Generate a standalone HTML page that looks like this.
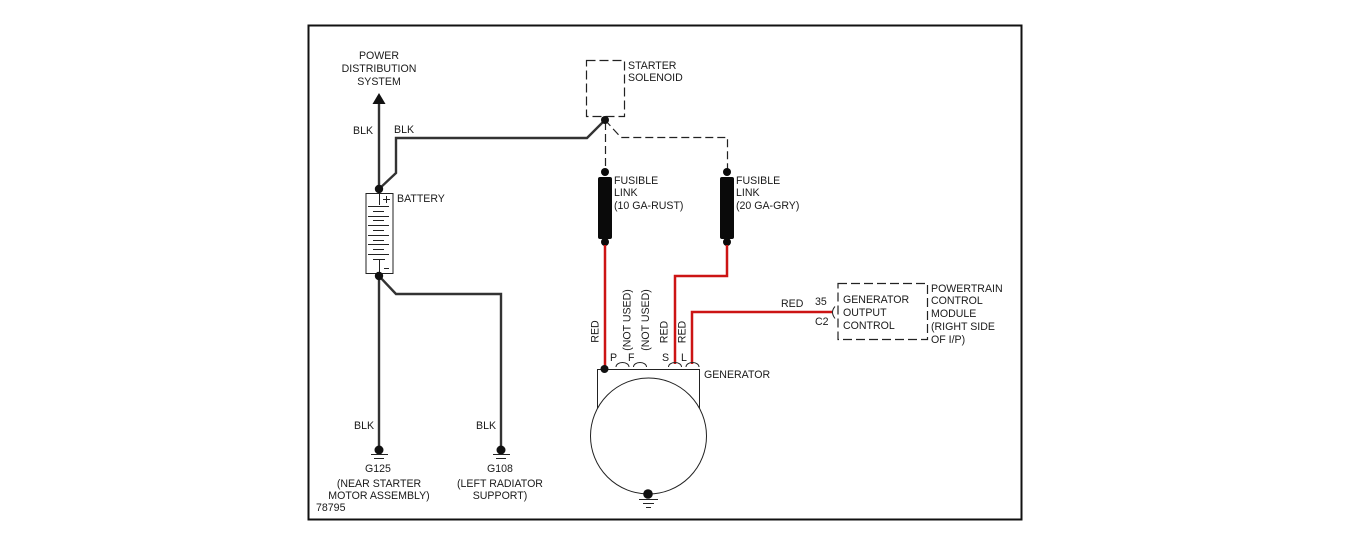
<!DOCTYPE html>
<html>
<head>
<meta charset="utf-8">
<style>
html,body{margin:0;padding:0;background:#fff;}
svg{display:block;}
text{font-family:"Liberation Sans",Arial,sans-serif;font-size:10.6px;fill:#1a1a1a;}
.m{text-anchor:middle;}
</style>
</head>
<body>
<svg width="1346" height="545" viewBox="0 0 1346 545" xmlns="http://www.w3.org/2000/svg">
<rect x="0" y="0" width="1346" height="545" fill="#fff"/>
<rect x="308.500" y="25.500" width="713" height="494" fill="none" stroke="#111" stroke-width="2"/>

<!-- black wires -->
<g fill="none" stroke="#333" stroke-width="2.400">
<path d="M379 100V189"/>
<path d="M379 189L396 173V138H587L605 120"/>
<path d="M379 276V450"/>
<path d="M379 276L396 294H501V450"/>
</g>
<path d="M379 93L385.500 104H372.500Z" fill="#111"/>

<!-- battery -->
<rect x="366" y="193.500" width="27" height="80" fill="#fff" stroke="#222" stroke-width="1"/>
<g stroke="#222" stroke-width="1" fill="none">
<path d="M379.500 189V205M379.500 259V274"/>
<path d="M368 206.500H389M373 211.500H384M368 216.500H389M373 220.500H384M368 225.500H389M373 230.500H384M368 235.500H389M373 240.500H384M368 244.500H389M373 249.500H384M368 254.500H389M373 259.500H385"/>
<path d="M383 199.500H390M386.500 196V203"/>
<path d="M384 268.500H389"/>
</g>
<circle cx="379" cy="189" r="4.200" fill="#111"/>
<circle cx="379" cy="276" r="4.200" fill="#111"/>

<!-- solenoid -->
<rect x="586.500" y="60.500" width="38" height="56" fill="none" stroke="#222" stroke-width="1.200" stroke-dasharray="9 4"/>
<g fill="none" stroke="#222" stroke-width="1.200" stroke-dasharray="8 4">
<path d="M605.500 122V172"/>
<path d="M605 120L621 137.500H727.500V172"/>
</g>
<circle cx="605" cy="120" r="4" fill="#111"/>

<!-- fuses -->
<g fill="#0a0a0a">
<rect x="598" y="177" width="14" height="62" rx="2"/>
<rect x="720" y="177" width="14" height="62" rx="2"/>
<circle cx="605" cy="172" r="4"/>
<circle cx="605" cy="242" r="4"/>
<circle cx="727" cy="172" r="4"/>
<circle cx="727" cy="242" r="4"/>
</g>

<!-- red wires -->
<g fill="none" stroke="#cc1414" stroke-width="2.500">
<path d="M605 245V369"/>
<path d="M727 245V276H675V364"/>
<path d="M692 364V312H832"/>
</g>

<!-- generator -->
<path d="M597.500 408V369.500H699.500V408" fill="none" stroke="#222" stroke-width="1"/>
<circle cx="648.500" cy="436" r="58" fill="#fff" stroke="#222" stroke-width="1"/>
<g fill="none" stroke="#222" stroke-width="1">
<path d="M616 367A6.500 4.500 0 0 1 629 367"/>
<path d="M633.500 367A6.500 4.500 0 0 1 646.500 367"/>
<path d="M668.500 367A6.500 4.500 0 0 1 681.500 367"/>
<path d="M686 367A6.500 4.500 0 0 1 699 367"/>
</g>
<circle cx="604.500" cy="369" r="4" fill="#111"/>
<circle cx="648" cy="494" r="4.800" fill="#111"/>
<g stroke="#222" stroke-width="1">
<path d="M639 499.500H658M643 503.500H654M646 507.500H651"/>
</g>

<!-- grounds -->
<g fill="#111">
<circle cx="379" cy="450" r="4.500"/>
<circle cx="501" cy="450" r="4.500"/>
</g>
<g stroke="#222" stroke-width="1">
<path d="M371 454.500H388M374 458.500H384"/>
<path d="M493 454.500H510M496 458.500H506"/>
</g>

<!-- PCM -->
<rect x="838" y="283.500" width="89.500" height="56" fill="none" stroke="#222" stroke-width="1.200" stroke-dasharray="9 4"/>
<path d="M835 306.500Q830 312 835 318.500" fill="none" stroke="#222" stroke-width="1"/>

<!-- labels -->
<text class="m" x="379" y="59">POWER</text>
<text class="m" x="379" y="72">DISTRIBUTION</text>
<text class="m" x="379" y="85">SYSTEM</text>
<text x="353" y="134">BLK</text>
<text x="394" y="133">BLK</text>
<text x="397" y="202">BATTERY</text>
<text x="628" y="69">STARTER</text>
<text x="628" y="81">SOLENOID</text>
<text x="614" y="184">FUSIBLE</text>
<text x="614" y="196">LINK</text>
<text x="614" y="209">(10 GA-RUST)</text>
<text x="736" y="184">FUSIBLE</text>
<text x="736" y="196">LINK</text>
<text x="736" y="209">(20 GA-GRY)</text>

<text class="m" transform="translate(598.500 331.500) rotate(-90)">RED</text>
<text class="m" transform="translate(630.500 320) rotate(-90)">(NOT USED)</text>
<text class="m" transform="translate(649 320) rotate(-90)">(NOT USED)</text>
<text class="m" transform="translate(667.500 332) rotate(-90)">RED</text>
<text class="m" transform="translate(685.500 332) rotate(-90)">RED</text>
<text x="610" y="361">P</text>
<text x="628" y="361">F</text>
<text x="662" y="361">S</text>
<text x="681" y="361">L</text>
<text x="704" y="378">GENERATOR</text>

<text x="781" y="307">RED</text>
<text x="815" y="305">35</text>
<text x="815" y="325">C2</text>
<text x="843" y="303">GENERATOR</text>
<text x="843" y="316">OUTPUT</text>
<text x="843" y="329">CONTROL</text>
<text x="931" y="292">POWERTRAIN</text>
<text x="931" y="304">CONTROL</text>
<text x="931" y="317">MODULE</text>
<text x="931" y="330">(RIGHT SIDE</text>
<text x="931" y="343">OF I/P)</text>

<text x="354" y="429">BLK</text>
<text x="476" y="429">BLK</text>
<text class="m" x="378" y="472">G125</text>
<text class="m" x="379" y="487">(NEAR STARTER</text>
<text class="m" x="379" y="499">MOTOR ASSEMBLY)</text>
<text class="m" x="500" y="472">G108</text>
<text class="m" x="500" y="487">(LEFT RADIATOR</text>
<text class="m" x="500" y="499">SUPPORT)</text>
<text x="316" y="511">78795</text>
</svg>
</body>
</html>
